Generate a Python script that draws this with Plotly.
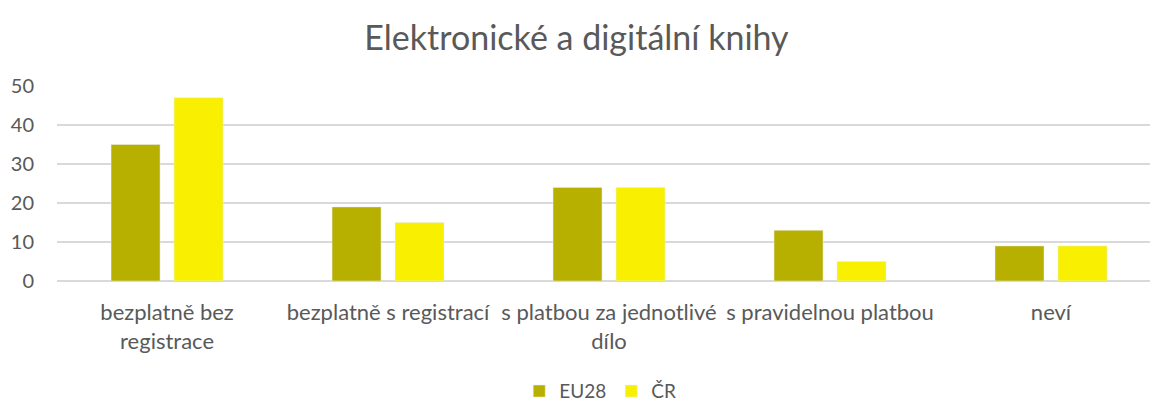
import plotly.graph_objects as go

categories = ["bezplatně bez<br>registrace", "bezplatně s registrací", "s platbou za jednotlivé<br>dílo",
              "s pravidelnou platbou", "neví"]
eu28 = [35, 19, 24, 13, 9]
cr = [47, 15, 24, 5, 9]
y_ticks = [0, 10, 20, 30, 40, 50]

FONT = "Lato, Carlito, Calibri, sans-serif"
TXT = "#595959"

fig = go.Figure()
fig.add_trace(go.Bar(name="EU28", x=categories, y=eu28, marker=dict(color="#B8B000")))
fig.add_trace(go.Bar(name="ČR", x=categories, y=cr, marker=dict(color="#F8F000")))

fig.update_layout(
    width=1153, height=402,
    paper_bgcolor="white", plot_bgcolor="white",
    margin=dict(l=57, r=3, t=86, b=121, autoexpand=False),
    barmode="group", bargap=0.43, bargroupgap=0.222,
    font=dict(family=FONT, size=20, color=TXT),
    title=dict(text="Elektronické a digitální knihy", x=0.5, xanchor="center", y=0.905, yanchor="middle",
               font=dict(family=FONT, size=34, color=TXT), automargin=False),
    legend=dict(orientation="h", x=0.497, xanchor="center", y=-0.565, yanchor="middle",
                font=dict(family=FONT, size=19, color=TXT), itemwidth=30, traceorder="normal",
                tracegroupgap=0),
    xaxis=dict(showline=False, ticks="", automargin=False, ticklabelstandoff=16,
               range=[-0.498, 4.448], tickfont=dict(size=22, color=TXT)),
    yaxis=dict(range=[0, 50], tickvals=y_ticks, showgrid=True, gridcolor="#D9D9D9", gridwidth=1.5,
               zeroline=True, zerolinecolor="#D9D9D9", zerolinewidth=1.5, showline=False, ticks="",
               automargin=False, ticklabelstandoff=22, tickfont=dict(size=20, color=TXT)),
)

fig.write_html("out.html", config={"displayModeBar": False},
               post_script="document.body.style.margin='0';document.body.style.overflow='hidden';")
